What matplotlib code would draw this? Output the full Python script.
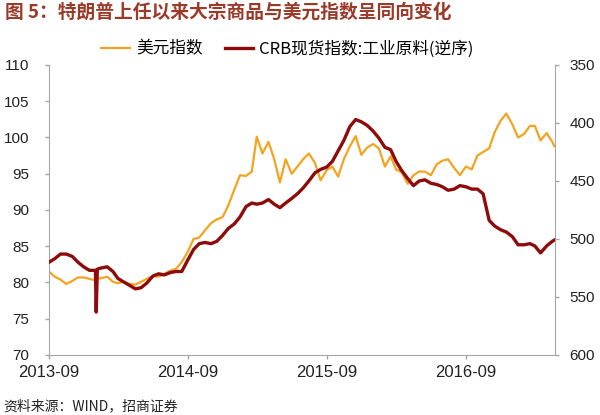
import matplotlib
matplotlib.use('Agg')
import matplotlib.pyplot as plt
import matplotlib.dates as mdates
import pandas as pd

plt.rcParams['font.family'] = ['Noto Sans CJK SC', 'DejaVu Sans']

# data
dates = ['2013-09-01', '2013-09-16', '2013-10-01', '2013-10-16', '2013-11-01', '2013-11-16',
         '2013-12-01', '2013-12-16', '2014-01-01', '2014-01-03', '2014-01-06', '2014-01-16',
         '2014-02-01', '2014-02-16', '2014-03-01', '2014-03-16', '2014-04-01', '2014-04-16',
         '2014-05-01', '2014-05-16', '2014-06-01', '2014-06-16', '2014-07-01', '2014-07-16',
         '2014-08-01', '2014-08-16', '2014-09-01', '2014-09-16', '2014-10-01', '2014-10-16',
         '2014-11-01', '2014-11-16', '2014-12-01', '2014-12-16', '2015-01-01', '2015-01-16',
         '2015-02-01', '2015-02-16', '2015-03-01', '2015-03-16', '2015-04-01', '2015-04-16',
         '2015-05-01', '2015-05-16', '2015-06-01', '2015-06-16', '2015-07-01', '2015-07-16',
         '2015-08-01', '2015-08-16', '2015-09-01', '2015-09-16', '2015-10-01', '2015-10-16',
         '2015-11-01', '2015-11-16', '2015-12-01', '2015-12-16', '2016-01-01', '2016-01-16',
         '2016-02-01', '2016-02-16', '2016-03-01', '2016-03-16', '2016-04-01', '2016-04-16',
         '2016-05-01', '2016-05-16', '2016-06-01', '2016-06-16', '2016-07-01', '2016-07-16',
         '2016-08-01', '2016-08-16', '2016-09-01', '2016-09-16', '2016-10-01', '2016-10-16',
         '2016-11-01', '2016-11-16', '2016-12-01', '2016-12-16', '2017-01-01', '2017-01-16',
         '2017-02-01', '2017-02-16', '2017-03-01', '2017-03-16', '2017-04-01', '2017-04-16',
         '2017-04-21']

usd = [81.5, 80.8, 80.4, 79.8, 80.2, 80.7,
       80.7, 80.5, 80.3, 80.4, 80.5, 80.6,
       80.8, 80.1, 79.9, 80.1, 79.8, 79.7,
       80.1, 80.5, 80.9, 80.8, 81.2, 81.6,
       81.9, 82.8, 84.3, 86.0, 86.2, 87.2,
       88.2, 88.7, 89.0, 90.6, 92.8, 94.8,
       94.7, 95.3, 100.1, 97.8, 99.4, 97.0,
       93.8, 97.0, 95.0, 96.0, 97.0, 97.8,
       96.5, 94.1, 95.5, 96.0, 94.6, 97.0,
       98.8, 100.2, 97.6, 98.6, 99.1, 98.5,
       96.0, 97.4, 95.6, 95.2, 93.6, 94.8,
       95.3, 95.3, 94.8, 96.3, 96.8, 97.0,
       95.8, 94.8, 96.0, 95.6, 97.5, 98.0,
       98.5, 100.8, 102.3, 103.3, 101.8, 100.0,
       100.5, 101.6, 101.6, 99.6, 100.6, 99.4,
       98.8]

crb = [520, 517, 513, 513, 515, 520,
       524, 527, 527, 563, 526, 525,
       524, 528, 534, 537, 540, 543,
       542, 538, 532, 530, 531, 529,
       528, 528, 518, 509, 504, 503,
       504, 502, 497, 491, 487, 481,
       472, 469, 470, 469, 466, 470,
       473, 469, 465, 461, 456, 450,
       443, 440, 438, 433, 424, 415,
       403, 397, 399, 402, 407, 413,
       421, 423, 433, 441, 448, 454,
       450, 449, 452, 453, 455, 458,
       457, 454, 455, 457, 457, 461,
       484, 489, 492, 494, 498, 505,
       505, 504, 506, 512, 506, 502,
       501]

x = pd.to_datetime(dates)
tick_dates = pd.to_datetime(['2013-09-01', '2014-09-01', '2015-09-01', '2016-09-01'])

fig = plt.figure(figsize=(6, 4.15), dpi=100)
ax = fig.add_axes([0.0817, 0.1446, 0.8433, 0.6988])
ax2 = ax.twinx()

l1, = ax.plot(x, usd, color='#F5A31E', lw=1.6, label='美元指数')
l2, = ax2.plot(x, crb, color='#8E0B0B', lw=2.4, label='CRB现货指数:工业原料(逆序)')

ax.set_ylim(70, 110)
ax.set_yticks(range(70, 111, 5))
ax2.set_ylim(600, 350)
ax2.set_yticks(range(350, 601, 50))
ax.set_xlim(pd.Timestamp('2013-09-01'), pd.Timestamp('2017-04-23'))
ax.set_xticks(tick_dates)
ax.xaxis.set_major_formatter(mdates.DateFormatter('%Y-%m'))

spine_c = '#A6A6A6'
for a in (ax, ax2):
    a.spines['top'].set_visible(False)
    for s in ('left', 'right', 'bottom'):
        a.spines[s].set_color(spine_c)
    a.tick_params(colors=spine_c, length=3, width=1, direction='out')
ax.spines['right'].set_visible(False)
ax2.spines['left'].set_visible(False)
ax2.spines['bottom'].set_visible(False)

for lab in ax.get_yticklabels() + ax2.get_yticklabels():
    lab.set_fontfamily('Liberation Sans')
    lab.set_fontsize(11)
    lab.set_color('#222222')
for lab in ax.get_xticklabels():
    lab.set_fontfamily('Liberation Sans')
    lab.set_fontsize(12)
    lab.set_color('#222222')
ax.tick_params(axis='y', pad=11)
ax2.tick_params(axis='y', pad=7.5)
ax.tick_params(axis='x', pad=4)

fig.legend(handles=[l1, l2], loc='center left', bbox_to_anchor=(0.155, 0.882),
           ncol=2, frameon=False, fontsize=12, handlelength=1.7,
           handletextpad=0.4, columnspacing=1.3, borderpad=0)

fig.text(0.008, 0.971, '图 5：特朗普上任以来大宗商品与美元指数呈同向变化',
         color='#9C3A2A', fontsize=13.5, fontweight='bold', va='center', ha='left')
fig.text(0.005, 0.022, '资料来源：WIND，招商证券', color='#222222',
         fontsize=10, va='center', ha='left')

fig.savefig('out.png', dpi=100)
